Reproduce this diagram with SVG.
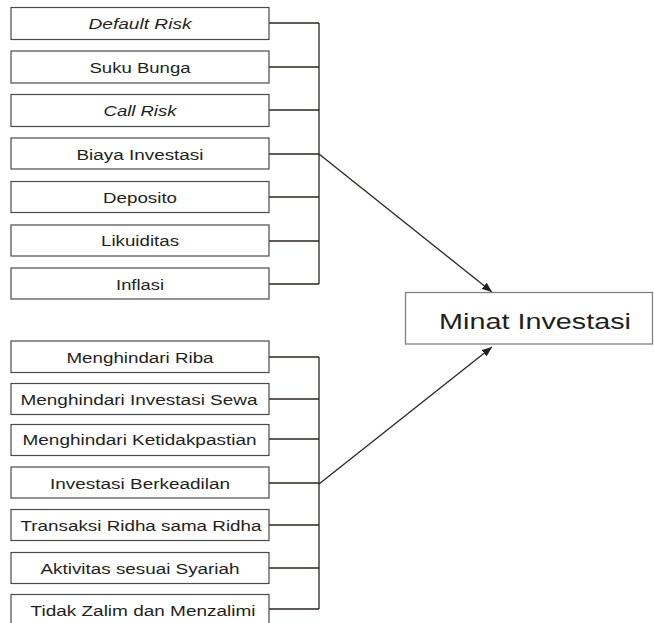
<svg xmlns="http://www.w3.org/2000/svg" width="654" height="623" viewBox="0 0 654 623">
<style>
.box{fill:#fff;stroke:#4a4a4a;stroke-width:1.2}
.main{fill:#fff;stroke:#808080;stroke-width:1.3}
.t{font-family:"Liberation Sans",Arial,sans-serif;font-size:15.2px;fill:#231f1c;text-anchor:middle}
.i{font-style:italic}
.big{font-family:"Liberation Sans",Arial,sans-serif;font-size:22.5px;fill:#231f1c;text-anchor:middle}
.c{fill:none;stroke:#2e2520;stroke-width:1.3}
</style>
<defs>
<marker id="ah" viewBox="0 0 10 8" refX="10" refY="4" markerWidth="10" markerHeight="8" markerUnits="userSpaceOnUse" orient="auto">
<path d="M0,0 L10,4 L0,8 Z" fill="#231f1c"/>
</marker>
</defs>
<g id="connectors">
<path class="c" d="M269,23H319M269,67H319M269,110H319M269,154H319M269,197H319M269,241H319M269,284H319M319,23V284"/>
<path class="c" d="M269,357H319M269,399H319M269,439H319M269,483H319M269,525H319M269,568H319M269,609H319M319,357V609"/>
<line class="c" x1="319" y1="154" x2="492" y2="292" marker-end="url(#ah)"/>
<line class="c" x1="319" y1="484" x2="492" y2="347" marker-end="url(#ah)"/>
</g>
<g id="n1"><rect class="box" x="11" y="7.5" width="258" height="32"/><text class="t i" transform="translate(140,29.3) scale(1.22,1)" textLength="84.4" lengthAdjust="spacingAndGlyphs">Default Risk</text></g>
<g id="n2"><rect class="box" x="11" y="51" width="258" height="32"/><text class="t" transform="translate(140,72.7) scale(1.22,1)" textLength="82.8" lengthAdjust="spacingAndGlyphs">Suku Bunga</text></g>
<g id="n3"><rect class="box" x="11" y="94.5" width="258" height="32"/><text class="t i" transform="translate(140,116) scale(1.22,1)" textLength="59.8" lengthAdjust="spacingAndGlyphs">Call Risk</text></g>
<g id="n4"><rect class="box" x="11" y="138" width="258" height="31"/><text class="t" transform="translate(140,159.7) scale(1.22,1)" textLength="104.1" lengthAdjust="spacingAndGlyphs">Biaya Investasi</text></g>
<g id="n5"><rect class="box" x="11" y="181.5" width="258" height="31"/><text class="t" transform="translate(140,202.8) scale(1.22,1)" textLength="60.7" lengthAdjust="spacingAndGlyphs">Deposito</text></g>
<g id="n6"><rect class="box" x="11" y="225" width="258" height="31"/><text class="t" transform="translate(140,246.3) scale(1.22,1)" textLength="63.9" lengthAdjust="spacingAndGlyphs">Likuiditas</text></g>
<g id="n7"><rect class="box" x="11" y="268" width="258" height="31"/><text class="t" transform="translate(140,289.7) scale(1.22,1)" textLength="39.3" lengthAdjust="spacingAndGlyphs">Inflasi</text></g>
<g id="n8"><rect class="box" x="11" y="341" width="258" height="31.5"/><text class="t" transform="translate(140,362.7) scale(1.22,1)" textLength="120.5" lengthAdjust="spacingAndGlyphs">Menghindari Riba</text></g>
<g id="n9"><rect class="box" x="11" y="383.5" width="258" height="31"/><text class="t" transform="translate(139,404.7) scale(1.22,1)" textLength="194.3" lengthAdjust="spacingAndGlyphs">Menghindari Investasi Sewa</text></g>
<g id="n10"><rect class="box" x="11" y="424.5" width="258" height="31"/><text class="t" transform="translate(139.5,445.3) scale(1.22,1)" textLength="191.8" lengthAdjust="spacingAndGlyphs">Menghindari Ketidakpastian</text></g>
<g id="n11"><rect class="box" x="11" y="467" width="258" height="31"/><text class="t" transform="translate(140,488.7) scale(1.22,1)" textLength="147.5" lengthAdjust="spacingAndGlyphs">Investasi Berkeadilan</text></g>
<g id="n12"><rect class="box" x="11" y="509.5" width="258" height="31"/><text class="t" transform="translate(141,531.2) scale(1.22,1)" textLength="197.5" lengthAdjust="spacingAndGlyphs">Transaksi Ridha sama Ridha</text></g>
<g id="n13"><rect class="box" x="11" y="552.5" width="258" height="31"/><text class="t" transform="translate(140,573.7) scale(1.22,1)" textLength="163.1" lengthAdjust="spacingAndGlyphs">Aktivitas sesuai Syariah</text></g>
<g id="n14"><rect class="box" x="11" y="594.5" width="258" height="33"/><text class="t" transform="translate(143,616.2) scale(1.22,1)" textLength="184.4" lengthAdjust="spacingAndGlyphs">Tidak Zalim dan Menzalimi</text></g>
<g id="minat"><rect class="main" x="405.5" y="292.5" width="247" height="51.5"/><text class="big" transform="translate(535,329.3) scale(1.23,1)" textLength="156.1" lengthAdjust="spacingAndGlyphs">Minat Investasi</text></g>
</svg>
